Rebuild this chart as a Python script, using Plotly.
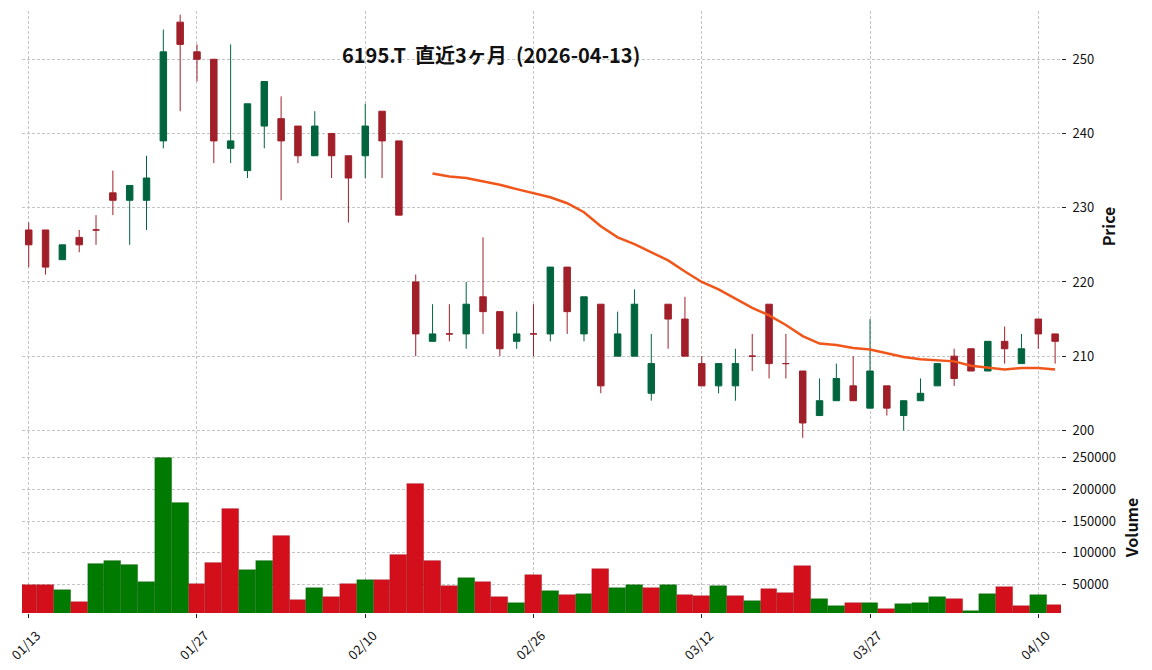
import plotly.graph_objects as go

# ---------------- data ----------------
DATES = ["01/13", "01/14", "01/15", "01/16", "01/19", "01/20", "01/21", "01/22", "01/23", "01/26",
         "01/27", "01/28", "01/29", "01/30", "02/02", "02/03", "02/04", "02/05", "02/06", "02/09",
         "02/10", "02/12", "02/13", "02/16", "02/17", "02/18", "02/19", "02/20", "02/24", "02/25",
         "02/26", "02/27", "03/02", "03/03", "03/04", "03/05", "03/06", "03/09", "03/10", "03/11",
         "03/12", "03/13", "03/16", "03/17", "03/18", "03/19", "03/23", "03/24", "03/25", "03/26",
         "03/27", "03/30", "03/31", "04/01", "04/02", "04/03", "04/06", "04/07", "04/08", "04/09",
         "04/10", "04/13"]

OPEN = [227, 227, 223, 226, 227, 232, 231, 231, 239, 255,
        251, 250, 238, 235, 241, 242, 241, 237, 240, 237,
        237, 243, 239, 220, 212, 213, 213, 218, 216, 212,
        213, 213, 222, 213, 217, 210, 210, 205, 217, 215,
        209, 206, 206, 210, 217, 209, 208, 202, 204, 206,
        203, 206, 202, 204, 206, 210, 211, 208, 212, 209,
        215, 213]
HIGH = [228, 227, 225, 227, 229, 235, 233, 237, 254, 256,
        252, 250, 252, 244, 247, 245, 241, 243, 240, 237,
        244, 243, 239, 221, 217, 217, 220, 226, 216, 216,
        217, 222, 222, 218, 217, 216, 219, 213, 217, 218,
        210, 209, 211, 213, 217, 213, 208, 207, 209, 210,
        215, 206, 204, 207, 209, 211, 211, 212, 214, 213,
        215, 213]
LOW = [222, 221, 223, 224, 225, 229, 225, 227, 238, 243,
       247, 236, 236, 234, 238, 231, 236, 237, 234, 228,
       234, 234, 229, 210, 212, 212, 211, 213, 210, 211,
       210, 212, 213, 212, 205, 210, 210, 204, 211, 210,
       206, 205, 204, 208, 207, 207, 199, 202, 204, 204,
       203, 202, 200, 204, 206, 206, 208, 208, 209, 209,
       211, 209]
CLOSE = [225, 222, 225, 225, 227, 231, 233, 234, 251, 252,
         250, 239, 239, 244, 247, 239, 237, 241, 237, 234,
         241, 239, 229, 213, 213, 213, 217, 216, 211, 213,
         213, 222, 216, 218, 206, 213, 217, 209, 215, 210,
         206, 209, 209, 210, 209, 209, 201, 204, 207, 204,
         208, 203, 204, 205, 209, 207, 208, 212, 211, 211,
         213, 212]
VOLUME = [49000, 49000, 41000, 22000, 82000, 88000, 80500, 53500, 250000, 178000,
          50500, 83500, 168500, 72500, 88000, 126000, 25500, 44000, 30000, 50500,
          57000, 57000, 96000, 208000, 88000, 47500, 60000, 53500, 30000, 20500,
          66000, 39500, 33000, 35000, 74000, 44000, 49000, 44000, 49000, 33000,
          31500, 47500, 31500, 24000, 42500, 36500, 79000, 27000, 16000, 20500,
          20500, 12500, 19000, 20500, 30000, 27000, 8000, 35000, 46000, 16000,
          33000, 17500]
# 25-day moving average as drawn (starts at the 25th session)
MA25 = [234.6, 234.2, 234.0, 233.6, 233.1, 232.5, 231.9, 231.4, 230.6, 229.4,
        227.5, 226.0, 225.1, 224.0, 222.9, 221.4, 220.0, 219.0, 217.7, 216.5,
        215.5, 214.2, 212.7, 211.7, 211.5, 211.1, 210.9, 210.4, 209.9, 209.6,
        209.5, 209.3, 208.7, 208.5, 208.2, 208.4, 208.4, 208.2]
TICK_EVERY = 10
TITLE = "6195.T\u00a0\u00a0直近3ヶ月\u00a0\u00a0(2026-04-13)"

# ---------------- styling ----------------
UP_CANDLE = "#00653f"
DN_CANDLE = "#a01f29"
UP_VOL = "#007a00"
DN_VOL = "#d40f1c"
MA_COLOR = "#f0561a"
GRID = "#c4c4c4"
FONT = "Noto Sans CJK JP"

n = len(DATES)
X = list(range(n))
up_idx = [i for i in X if CLOSE[i] > OPEN[i]]
dn_idx = [i for i in X if CLOSE[i] <= OPEN[i]]


def pick(lst, idx):
    return [lst[i] for i in idx]


fig = go.Figure()
for idx, col in ((up_idx, UP_CANDLE), (dn_idx, DN_CANDLE)):
    fig.add_trace(go.Candlestick(
        x=idx, open=pick(OPEN, idx), high=pick(HIGH, idx), low=pick(LOW, idx), close=pick(CLOSE, idx),
        increasing=dict(line=dict(color=col, width=1), fillcolor=col),
        decreasing=dict(line=dict(color=col, width=1), fillcolor=col),
        whiskerwidth=0, xaxis="x", yaxis="y", showlegend=False, hoverinfo="skip"))

ma_x = X[n - len(MA25):]
fig.add_trace(go.Scatter(x=ma_x, y=MA25, mode="lines", line=dict(color=MA_COLOR, width=2.5),
                         xaxis="x", yaxis="y", showlegend=False, hoverinfo="skip"))

vol_colors = []
for i in X:
    ref = CLOSE[i - 1] if i > 0 else OPEN[i]
    vol_colors.append(UP_VOL if CLOSE[i] > ref else DN_VOL)
fig.add_trace(go.Bar(x=X, y=VOLUME, width=1,
                     marker=dict(color=vol_colors, line=dict(width=0.6, color="rgba(0,0,0,0.18)")),
                     xaxis="x", yaxis="y2", showlegend=False, hoverinfo="skip"))

tickvals = list(range(0, n, TICK_EVERY))
ticktext = [DATES[i] for i in tickvals]

VOL_FRAC = 0.2842
# the page adds an 8px body margin, so the figure is shifted by 8px right/down
fig.update_layout(
    width=1152, height=670,
    margin=dict(l=14, r=99, t=3, b=65, autoexpand=False),
    paper_bgcolor="white", plot_bgcolor="white",
    font=dict(family=FONT, size=13, color="#111"),
    boxgap=0.45, bargap=0,
    xaxis=dict(domain=[0, 1], anchor="y2", range=[-0.4, 61.35], tickmode="array",
               tickvals=tickvals, ticktext=ticktext, tickangle=-45, automargin=False,
               ticklabelshift=8, ticklabelstandoff=5, ticklabeloverflow="allow",
               showgrid=True, gridcolor=GRID, griddash="3px,2px", gridwidth=0.8,
               ticks="outside", ticklen=4, tickcolor="#222", tickwidth=1,
               zeroline=False, showline=False, rangeslider=dict(visible=False),
               tickfont=dict(size=13)),
    yaxis=dict(domain=[VOL_FRAC, 1], anchor="x", side="right", range=[198.45, 256.5],
               dtick=10, tick0=200, automargin=False, ticklabelstandoff=4,
               showgrid=True, gridcolor=GRID, griddash="3px,2px", gridwidth=0.8,
               ticks="outside", ticklen=4, tickcolor="#222", zeroline=False, showline=False,
               title=dict(text="<b>Price</b>", font=dict(size=16), standoff=10)),
    yaxis2=dict(domain=[0, VOL_FRAC], anchor="x", side="right", range=[5280, 274600],
                tickmode="array", tickvals=[50000, 100000, 150000, 200000, 250000],
                tickformat="d", automargin=False, ticklabelstandoff=4,
                showgrid=True, gridcolor=GRID, griddash="3px,2px", gridwidth=0.8,
                ticks="outside", ticklen=4, tickcolor="#222", zeroline=False, showline=False,
                title=dict(text="<b>Volume</b>", font=dict(size=16), standoff=11)),
    annotations=[dict(text="<b>" + TITLE + "</b>", xref="paper", yref="paper", x=0.4514, y=0.928,
                      xanchor="center", yanchor="middle", showarrow=False,
                      font=dict(family=FONT, size=20, color="#111"))],
)

fig.write_html("out.html")
